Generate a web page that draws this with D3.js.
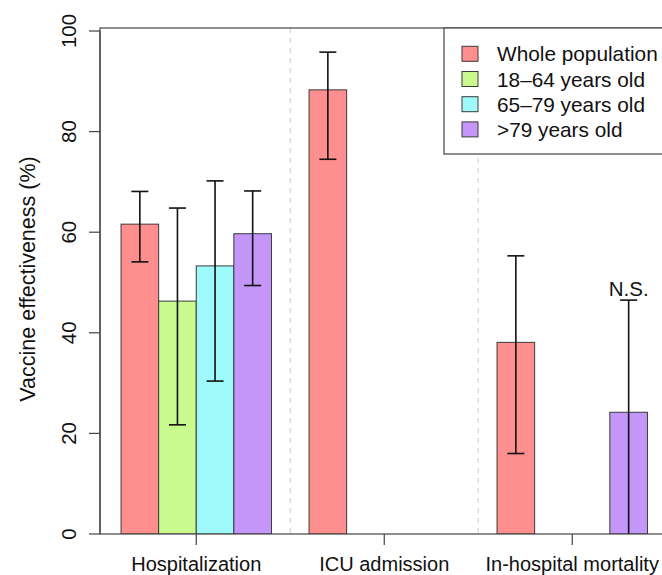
<!DOCTYPE html>
<html>
<head>
<meta charset="utf-8">
<script src="https://cdn.jsdelivr.net/npm/d3@7"></script>
<style>
  body { margin: 0; background: #fff; }
  svg { display: block; font-family: "Liberation Sans", Arial, Helvetica, sans-serif; }
</style>
</head>
<body>
<script>
'use strict';

// outcome categories along the x axis
var categories = ["Hospitalization", "ICU admission", "In-hospital mortality"];

// series (age groups)
var seriesNames = ["Whole population", "18\u201364 years old", "65\u201379 years old", ">79 years old"];
var seriesColors = ["#ff8f8f", "#c8fa8e", "#9efafa", "#c496fa"];

// point estimates (%), one array per series, null = not shown
var whole   = [61.6, 88.3, 38.1];
var age1864 = [46.3, null, null];
var age6579 = [53.3, null, null];
var age80   = [59.7, null, 24.2];

// 95% CI
var wholeLo   = [54.1, 74.5, 16.0];
var wholeHi   = [68.1, 95.8, 55.3];
var age1864Lo = [21.7, null, null];
var age1864Hi = [64.8, null, null];
var age6579Lo = [30.4, null, null];
var age6579Hi = [70.2, null, null];
var age80Lo   = [49.4, null, -20];
var age80Hi   = [68.2, null, 46.5];

var yTicks = [0, 20, 40, 60, 80, 100];

var estimates = [whole, age1864, age6579, age80];
var lows = [wholeLo, age1864Lo, age6579Lo, age80Lo];
var highs = [wholeHi, age1864Hi, age6579Hi, age80Hi];

window.onload = function(){

   var W = 662, H = 575;
   var plotL = 100, plotT = 28, plotB = 534;

   var svg = d3.select("body").append("svg")
      .attr("width", W)
      .attr("height", H);

   // barplot units: each bar is 1 wide, one empty unit between groups
   var nS = seriesNames.length;
   var xUnits = d3.scaleLinear()
      .domain([0.44, 15.56])
      .range([plotL, 668.5]);

   var y = d3.scaleLinear()
      .domain([0, 100])
      .range([plotB, 31]);

   function slotLeft(g, s){ return 1 + g * (nS + 1) + s; }

   // flatten into bar records
   var bars = [];
   categories.forEach(function(c, g){
      estimates.forEach(function(arr, s){
         if (arr[g] == null) return;
         bars.push({g: g, s: s, v: arr[g], lo: lows[s][g], hi: highs[s][g]});
      });
   });

   svg.append("clipPath").attr("id", "plotclip")
      .append("rect")
      .attr("x", plotL).attr("y", plotT)
      .attr("width", W - plotL).attr("height", plotB - plotT);

   // dashed separators between groups
   svg.selectAll("line.sep")
      .data([0, 1])
      .enter().append("line")
      .attr("class", "sep")
      .attr("x1", function(d){ return xUnits(slotLeft(d, nS) + 0.5); })
      .attr("x2", function(d){ return xUnits(slotLeft(d, nS) + 0.5); })
      .attr("y1", plotT)
      .attr("y2", plotB)
      .attr("stroke", "#d4d4d4")
      .attr("stroke-width", 1.2)
      .attr("stroke-dasharray", "5,5");

   var plot = svg.append("g").attr("clip-path", "url(#plotclip)");

   plot.selectAll("rect.bar")
      .data(bars)
      .enter().append("rect")
      .attr("class", "bar")
      .attr("x", function(d){ return xUnits(slotLeft(d.g, d.s)); })
      .attr("width", function(d){ return xUnits(slotLeft(d.g, d.s) + 1) - xUnits(slotLeft(d.g, d.s)); })
      .attr("y", function(d){ return y(d.v); })
      .attr("height", function(d){ return y(0) - y(d.v); })
      .attr("fill", function(d){ return seriesColors[d.s]; })
      .attr("stroke", "#3a3a3a")
      .attr("stroke-width", 1);

   // error bars
   var eb = plot.selectAll("g.err")
      .data(bars)
      .enter().append("g")
      .attr("class", "err")
      .attr("stroke", "#111")
      .attr("stroke-width", 1.6);

   function cx(d){ return xUnits(slotLeft(d.g, d.s) + 0.5); }

   eb.append("line")
      .attr("x1", cx).attr("x2", cx)
      .attr("y1", function(d){ return y(d.hi); })
      .attr("y2", function(d){ return y(d.lo); });
   eb.append("line")
      .attr("x1", function(d){ return cx(d) - 8.5; })
      .attr("x2", function(d){ return cx(d) + 8.5; })
      .attr("y1", function(d){ return y(d.hi); })
      .attr("y2", function(d){ return y(d.hi); });
   eb.filter(function(d){ return d.lo >= 0; }).append("line")
      .attr("x1", function(d){ return cx(d) - 8.5; })
      .attr("x2", function(d){ return cx(d) + 8.5; })
      .attr("y1", function(d){ return y(d.lo); })
      .attr("y2", function(d){ return y(d.lo); });

   // N.S. label on mortality >79
   svg.append("text")
      .attr("x", xUnits(slotLeft(2, 3) + 0.5))
      .attr("y", y(age80Hi[2]) - 4)
      .attr("text-anchor", "middle")
      .attr("font-size", 20.5)
      .attr("fill", "#111")
      .text("N.S.");

   // plot frame
   svg.append("rect")
      .attr("x", plotL).attr("y", plotT)
      .attr("width", 700).attr("height", plotB - plotT)
      .attr("fill", "none")
      .attr("stroke", "#444")
      .attr("stroke-width", 1.2);

   // y axis
   var yAxis = svg.append("g");
   yAxis.append("line")
      .attr("x1", plotL).attr("x2", plotL)
      .attr("y1", y(0)).attr("y2", y(100))
      .attr("stroke", "#444").attr("stroke-width", 1.2);
   yAxis.selectAll("line.tk")
      .data(yTicks)
      .enter().append("line")
      .attr("class", "tk")
      .attr("x1", plotL - 11).attr("x2", plotL)
      .attr("y1", function(d){ return y(d); })
      .attr("y2", function(d){ return y(d); })
      .attr("stroke", "#444").attr("stroke-width", 1.2);
   yAxis.selectAll("text")
      .data(yTicks)
      .enter().append("text")
      .attr("transform", function(d){ return "translate(76," + y(d) + ") rotate(-90)"; })
      .attr("text-anchor", "middle")
      .attr("font-size", 20.5)
      .attr("fill", "#111")
      .text(function(d){ return d; });

   svg.append("text")
      .attr("transform", "translate(35,279) rotate(-90)")
      .attr("text-anchor", "middle")
      .attr("font-size", 21.5)
      .attr("fill", "#111")
      .text("Vaccine effectiveness (%)");

   // x axis ticks + labels
   var xAxis = svg.append("g");
   xAxis.selectAll("line")
      .data(categories)
      .enter().append("line")
      .attr("x1", function(d, i){ return xUnits(slotLeft(i, 0) + nS / 2); })
      .attr("x2", function(d, i){ return xUnits(slotLeft(i, 0) + nS / 2); })
      .attr("y1", plotB).attr("y2", plotB + 11)
      .attr("stroke", "#444").attr("stroke-width", 1.2);
   xAxis.selectAll("text")
      .data(categories)
      .enter().append("text")
      .attr("x", function(d, i){ return xUnits(slotLeft(i, 0) + nS / 2); })
      .attr("y", 571)
      .attr("text-anchor", "middle")
      .attr("font-size", 20)
      .attr("fill", "#111")
      .text(function(d){ return d; });

   // legend
   var legend = svg.append("g");
   legend.append("rect")
      .attr("x", 444).attr("y", plotT)
      .attr("width", 300).attr("height", 126)
      .attr("fill", "#fff")
      .attr("stroke", "#444")
      .attr("stroke-width", 1.2);
   var rows = legend.selectAll("g.row")
      .data(seriesNames)
      .enter().append("g")
      .attr("class", "row")
      .attr("transform", function(d, i){ return "translate(0," + (53.8 + i * 25.2) + ")"; });
   rows.append("rect")
      .attr("x", 462).attr("y", -7.5)
      .attr("width", 16).attr("height", 15)
      .attr("fill", function(d, i){ return seriesColors[i]; })
      .attr("stroke", "#3a3a3a")
      .attr("stroke-width", 1);
   rows.append("text")
      .attr("x", 497).attr("y", 7.5)
      .attr("font-size", 20.8)
      .attr("fill", "#111")
      .text(function(d){ return d; });
};
</script>
</body>
</html>
